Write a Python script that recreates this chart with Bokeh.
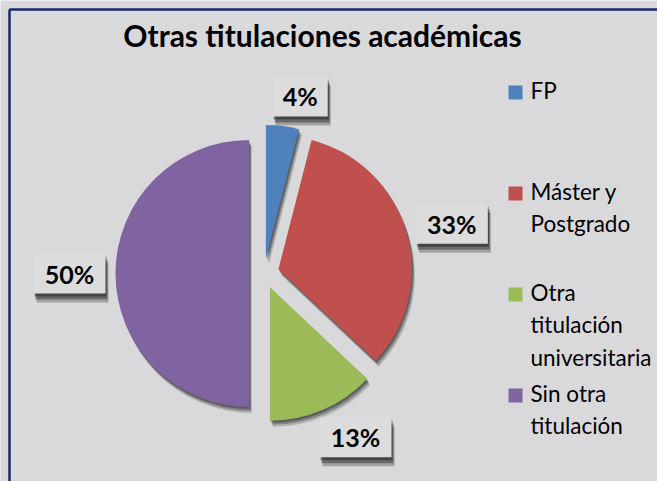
import numpy as np
from bokeh.plotting import figure
from bokeh.models import Range1d
from bokeh.core.properties import value
from bokeh.embed import file_html
from bokeh.resources import INLINE

# ---- data ----
title = "Otras titulaciones académicas"
categories = ["FP", "Máster y\nPostgrado", "Otra\ntitulación\nuniversitaria", "Sin otra\ntitulación"]
values = [4, 33, 13, 50]
colors = ["#4f81bd", "#c0504d", "#9bbb59", "#8064a2"]

# ---- layout (data units == pixels, y up) ----
W, H = 657, 481
CX, CY = 263.5, 208.0
R = 133.5
EXPLODE = 15.0
GAP = 10.0
FONT = value("Lato")

vals = np.array(values, dtype=float)
frac = vals / vals.sum()
cw_end = np.cumsum(frac) * 2 * np.pi
cw_start = cw_end - frac * 2 * np.pi
cw_mid = (cw_start + cw_end) / 2
start_angle = np.pi / 2 - cw_start
end_angle = np.pi / 2 - cw_end
theta = np.pi / 2 - cw_mid
ux, uy = np.cos(theta), np.sin(theta)
sx = CX + EXPLODE * ux
sy = CY + EXPLODE * uy

p = figure(width=W, height=H, output_backend="svg", toolbar_location=None,
           x_range=Range1d(0, W), y_range=Range1d(0, H),
           x_axis_location=None, y_axis_location=None, min_border=0)
p.grid.visible = False
p.outline_line_color = None
p.background_fill_color = "#d9d9db"
p.border_fill_color = "#d9d9db"

# frame border (top and left visible)
p.segment(x0=[9, 9], y0=[-10, H - 9], x1=[9, W + 10], y1=[H - 9, H - 9],
          line_color="#112d6b", line_width=2.5)

# slice shadows
for dx, dy, a in [(1, -2, 0.30), (2, -4, 0.25), (3, -6, 0.18)]:
    p.wedge(x=sx + dx, y=sy + dy, radius=R, start_angle=start_angle, end_angle=end_angle,
            direction="clock", fill_color="black", fill_alpha=a, line_color=None)
# slices
p.wedge(x=sx, y=sy, radius=R, start_angle=start_angle, end_angle=end_angle,
        direction="clock", fill_color=colors, line_color=None)

# percent labels
pct = [f"{int(round(f * 100))}%" for f in frac]
bw = np.array([21 + 17 * len(t) for t in pct], dtype=float)
bh = 40.0
dist = R + EXPLODE + GAP
lx = CX + dist * ux + bw / 2 * np.sign(ux) * np.abs(ux) ** 0.25
ly = CY + dist * uy + bh / 2 * uy
for dx, dy, a in [(1, -3, 0.35), (2, -6, 0.35), (3, -9, 0.25)]:
    p.rect(x=lx + dx, y=ly + dy, width=bw, height=bh, fill_color="black", fill_alpha=a, line_color=None)
p.rect(x=lx, y=ly, width=bw, height=bh, fill_color="#dcdcdd", line_color=None)
p.text(x=lx, y=ly, text=pct, text_font=FONT, text_font_style="bold", text_font_size="25px",
       text_align="center", text_baseline="middle", text_color="black")

# title
p.text(x=[322], y=[H - 34], text=[title], text_font=FONT, text_font_style="bold",
       text_font_size="30px", text_align="center", text_baseline="middle", text_color="black")

# legend
LEG_CAP_TOP = 85.0
LEG_STEP = 101.0
cap_top = LEG_CAP_TOP + LEG_STEP * np.arange(len(categories))
p.rect(x=[515] * len(categories), y=H - (cap_top + 7), width=14, height=14,
       fill_color=colors, line_color=None)
p.text(x=[530] * len(categories), y=H - (cap_top - 9), text=categories, text_font=FONT,
       text_font_size="22.5px", text_align="left", text_baseline="top", text_line_height=1.22,
       text_color="black")

open("out.html", "w").write(file_html(p, INLINE))
